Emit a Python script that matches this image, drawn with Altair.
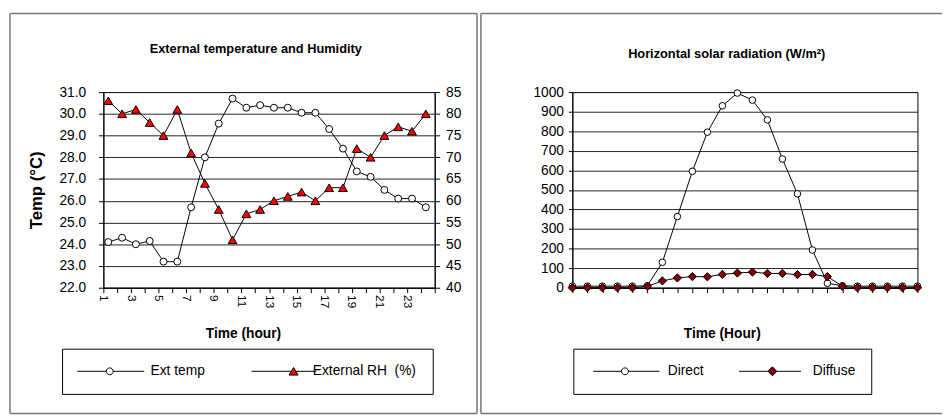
import altair as alt
import pandas as pd

FONT = "Liberation Sans"
FRAME = "#777777"

# ---------------- data ----------------
hours = list(range(1, 25))
ext_temp = [24.1, 24.3, 24.0, 24.15, 23.2, 23.2, 25.7, 28.0, 29.55, 30.7, 30.28, 30.4,
            30.28, 30.28, 30.05, 30.05, 29.3, 28.4, 27.35, 27.1, 26.5, 26.1, 26.1, 25.7]
ext_rh = [83, 80, 81, 78, 75, 81, 71, 64, 58, 51, 57, 58,
          60, 61, 62, 60, 63, 63, 72, 70, 75, 77, 76, 80]
direct = [8, 8, 8, 8, 8, 10, 130, 364, 595, 795, 930, 995,
          959, 858, 658, 480, 193, 23, 10, 8, 8, 8, 8, 8]
diffuse = [0, 0, 0, 0, 0, 7, 35, 50, 57, 56, 68, 75,
           80, 73, 73, 67, 68, 57, 7, 0, 0, 0, 0, 0]

left_ticks_x = list(range(1, 26))
left_ticks_temp = [22, 23, 24, 25, 26, 27, 28, 29, 30, 31]
left_ticks_rh = [40, 45, 50, 55, 60, 65, 70, 75, 80, 85]
right_ticks_y = [0, 100, 200, 300, 400, 500, 600, 700, 800, 900, 1000]

left_title = "External temperature and Humidity"
right_title = "Horizontal solar radiation (W/m²)"
left_series = ["Ext temp", "External RH\u00a0 (%)"]
right_series = ["Direct", "Diffuse"]

left_df = pd.DataFrame({"hour": hours, "temp": ext_temp, "rh": ext_rh})
right_df = pd.DataFrame({"hour": hours, "direct": direct, "diffuse": diffuse})
one = pd.DataFrame({"k": [0]})

# legend symbols (line + marker), unit square coordinates
PATH_CIRCLE_L = "M-10.6,0H-2.15M-0.15,0H8.85M-2.15,0A1,1,0,1,0,-0.15,0A1,1,0,1,0,-2.15,0Z"
PATH_TRI = "M-7.1,0H4.49M5.79,0H11.7M5.14,-1.1L6.44,1.1L3.84,1.1Z"
PATH_CIRCLE_R = "M-9.2,0H-1M1,0H10M-1,0A1,1,0,1,0,1,0A1,1,0,1,0,-1,0Z"
PATH_DIAMOND = "M-9,0H-0.6M2,0H9M0.7,-1.3L2,0L0.7,1.3L-0.6,0Z"

W_L, W_R, H = 337, 351, 199


def frame(xl, xr, yt, yb, divider=None, left=None):
    parts = []
    base = alt.Chart(one)
    parts.append(base.mark_rule(color=FRAME, strokeWidth=1.5).encode(
        x=alt.value(xl), x2=alt.value(xr), y=alt.value(yt)))
    parts.append(base.mark_rule(color=FRAME, strokeWidth=1.5).encode(
        x=alt.value(xl), x2=alt.value(xr), y=alt.value(yb)))
    if left is not None:
        parts.append(base.mark_rule(color=FRAME, strokeWidth=1.5).encode(
            x=alt.value(left), y=alt.value(yt), y2=alt.value(yb)))
    if divider is not None:
        parts.append(base.mark_rule(color=FRAME, strokeWidth=1.5).encode(
            x=alt.value(divider), y=alt.value(yt), y2=alt.value(yb)))
    return parts


def title_layer(text, x, y):
    return alt.Chart(one).mark_text(
        font=FONT, fontSize=13, fontWeight="bold", color="black",
        align="center", baseline="middle"
    ).encode(x=alt.value(x), y=alt.value(y), text=alt.value(text))


def legend_layer(series, paths, fills, lx, colpad, laboff):
    leg = alt.Legend(title=None, orient="none", legendX=lx, legendY=261,
                     direction="horizontal", strokeColor="black", fillColor="white",
                     padding=16, symbolOffset=29.5, labelOffset=laboff,
                     columnPadding=colpad, symbolSize=49, symbolStrokeColor="black",
                     symbolStrokeWidth=1, labelFont=FONT, labelFontSize=14,
                     labelColor="black")
    return alt.Chart(one).transform_filter("false").mark_point(
        filled=True, size=49, strokeWidth=1, opacity=1
    ).encode(
        shape=alt.Shape("s:N", scale=alt.Scale(domain=series, range=paths), legend=leg),
        fill=alt.Fill("s:N", scale=alt.Scale(domain=series, range=fills), legend=leg),
        stroke=alt.Stroke("s:N", scale=alt.Scale(domain=series, range=["black", "black"]),
                          legend=leg),
    )


# ---------------- left chart ----------------
x_left = alt.X(
    "hour:Q",
    scale=alt.Scale(domain=[1, 25], nice=False, zero=False),
    axis=alt.Axis(values=left_ticks_x, grid=False, tickSize=5, tickColor="black",
                  domainColor="black", labelAngle=90, labelAlign="left",
                  labelBaseline="middle", labelPadding=2,
                  labelExpr="(datum.value % 2 == 1 && datum.value < 24) ? datum.label : ''",
                  labelFont=FONT, labelFontSize=12, labelColor="black",
                  title="Time (hour)", titleFont=FONT, titleFontSize=14,
                  titleFontWeight="bold", titleColor="black", titleX=142,
                  titleAlign="center", titlePadding=19),
)

temp_chart = alt.Chart(left_df).mark_line(
    color="black", strokeWidth=1, xOffset=5,
    point=alt.OverlayMarkDef(shape="circle", filled=True, fill="white", stroke="black",
                             strokeWidth=1, size=50, xOffset=5),
).encode(
    x=x_left,
    y=alt.Y("temp:Q", scale=alt.Scale(domain=[22, 31], nice=False, zero=False),
            axis=alt.Axis(orient="left", values=left_ticks_temp, format=".1f",
                          grid=True, gridColor="#222222", gridWidth=1,
                          tickSize=5, tickColor="black", domainColor="black",
                          labelPadding=13, labelFont=FONT, labelFontSize=14,
                          labelColor="black", title="Temp (°C)", titleFont=FONT,
                          titleFontSize=17, titleFontWeight="bold", titleColor="black",
                          titlePadding=14)),
)

rh_chart = alt.Chart(left_df).mark_line(
    color="black", strokeWidth=1, xOffset=5,
    point=alt.OverlayMarkDef(shape="triangle-up", filled=True, fill="#FF0000",
                             stroke="black", strokeWidth=1, size=80, xOffset=5),
).encode(
    x=x_left,
    y=alt.Y("rh:Q", scale=alt.Scale(domain=[40, 85], nice=False, zero=False),
            axis=alt.Axis(orient="right", values=left_ticks_rh, grid=False,
                          tickSize=5, tickColor="black", domainColor="black",
                          labelPadding=6, labelFont=FONT, labelFontSize=14,
                          labelColor="black", title=None)),
)

left = alt.layer(
    temp_chart, rh_chart,
    *frame(-95, 380, -80, 327, divider=380, left=-95),
    title_layer(left_title, 155, -44),
    legend_layer(left_series, [PATH_CIRCLE_L, PATH_TRI], ["white", "#FF0000"], -42, 35, 30.5),
).resolve_scale(y="independent").properties(width=W_L, height=H)

# ---------------- right chart ----------------
x_right = alt.X(
    "hour:Q",
    scale=alt.Scale(domain=[1, 24], nice=False, zero=False),
    axis=alt.Axis(values=hours, grid=False, tickSize=5, tickColor="black",
                  domainColor="black", labels=False,
                  title="Time (Hour)", titleFont=FONT, titleFontSize=14,
                  titleFontWeight="bold", titleColor="black", titleX=152,
                  titleAlign="center", titlePadding=34),
)
y_right = alt.Scale(domain=[0, 1000], nice=False, zero=True)
y_right_axis = alt.Axis(values=right_ticks_y, format="d", grid=True, gridColor="#222222",
                        gridWidth=1, tickSize=4, tickColor="black", domainColor="black",
                        labelPadding=5, labelFont=FONT, labelFontSize=14,
                        labelColor="black", title=None)

direct_chart = alt.Chart(right_df).mark_line(
    color="black", strokeWidth=1,
    point=alt.OverlayMarkDef(shape="circle", filled=True, fill="white", stroke="black",
                             strokeWidth=1, size=45),
).encode(x=x_right, y=alt.Y("direct:Q", scale=y_right, axis=y_right_axis))

diffuse_chart = alt.Chart(right_df).mark_line(
    color="black", strokeWidth=1,
    point=alt.OverlayMarkDef(shape="diamond", filled=True, fill="#800000", stroke="black",
                             strokeWidth=1, size=70),
).encode(x=x_right, y=alt.Y("diffuse:Q", scale=y_right, axis=y_right_axis))

right = alt.layer(
    direct_chart, diffuse_chart,
    *frame(-93, 376, -80, 327, left=-93),
    title_layer(right_title, 157, -39),
    legend_layer(right_series, [PATH_CIRCLE_R, PATH_DIAMOND], ["white", "#800000"], 1, 30.5, 36.5),
).properties(width=W_R, height=H)

chart = alt.hconcat(left, right, spacing=0).resolve_scale(
    shape="independent", fill="independent", stroke="independent"
).resolve_legend(shape="independent", fill="independent", stroke="independent").configure(
    padding=0, background="white", font=FONT
).configure_view(stroke="black", strokeWidth=1)

chart.save("out.html", embed_options={"renderer": "svg", "actions": False})
